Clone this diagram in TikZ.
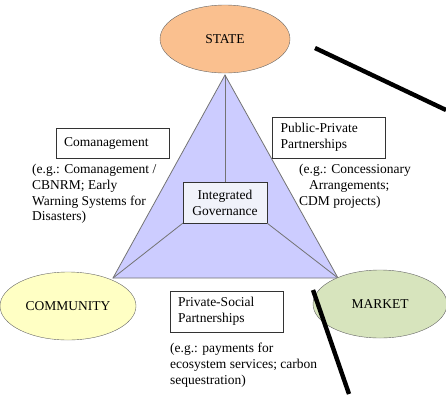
\documentclass[tikz,border=0pt]{standalone}
\usepackage{fontspec}
\setmainfont{Liberation Serif}
\usepackage{xcolor}
\usetikzlibrary{shapes.geometric}
\definecolor{stateorange}{RGB}{250,192,143}
\definecolor{trililac}{RGB}{204,204,255}
\definecolor{commyellow}{RGB}{255,255,196}
\definecolor{marketgreen}{RGB}{215,228,189}
\definecolor{boxwhite}{RGB}{240,242,250}

\begin{document}
\begin{tikzpicture}[x=1pt, y=-1pt,
      every node/.style={font=\fontsize{13.5}{15.8}\selectfont},
      actor/.style={ellipse, draw=black!60, inner sep=0pt},
      label box/.style={draw=black!80, fill=white, inner xsep=8pt, inner ysep=3pt,
        text width=97pt, align=left},
      example/.style={inner sep=0pt, align=left, anchor=north west},
      divider/.style={draw=black!55, line width=0.8pt},
      bar/.style={line width=4.4pt}
    ]
    \useasboundingbox (0,0) rectangle (446,394);
    % triangle between the three sectors
    \coordinate (top) at (225,75);
    \coordinate (left) at (113,278);
    \coordinate (right) at (338,278);
    \filldraw[fill=trililac, divider] (top) -- (right) -- (left) -- cycle;
    \node[draw=black!80, fill=boxwhite, minimum width=84pt, minimum height=41pt,
      align=center, inner sep=0pt] (gov) at (225,202.5) {Integrated\\Governance};
    \draw[divider] (top) -- (gov.north);
    \draw[divider] (gov.south west) -- (left);
    \draw[divider] (gov.south east) -- (right);
    % sectors
    \node[actor, fill=stateorange, minimum width=130pt, minimum height=68pt] (state) at (225,39) {STATE};
    \node[actor, fill=commyellow, minimum width=136pt, minimum height=68pt] (community) at (68,306) {COMMUNITY};
    \node[actor, fill=marketgreen, minimum width=134pt, minimum height=68pt] (market) at (380,304) {MARKET};
    % partnership boxes
    \node[label box, minimum height=30pt] (coman) at (112.5,143) {Comanagement};
    \node[label box, minimum height=41pt] (ppp) at (329,137.5) {Public-Private\\Partnerships};
    \node[label box, minimum height=41pt] (psp) at (226.5,311.5) {Private-Social\\Partnerships};
    % examples
    \node[example] (comanex) at (32,164) {(e.g.: Comanagement /\\CBNRM; Early\\Warning Systems for\\Disasters)};
    \node[example] (pppex) at (299,164) {(e.g.: Concessionary\\\hspace{10pt}Arrangements;\\CDM projects)};
    \node[example] (pspex) at (170,343) {(e.g.: payments for\\ecosystem services; carbon\\sequestration)};
    % heavy strokes
    \coordinate (b1) at (315,48);
    \coordinate (b2) at (446,110);
    \coordinate (b3) at (313,290);
    \coordinate (b4) at (349,394);
    \draw[bar] (b1) -- (b2);
    \draw[bar] (b3) -- (b4);
    \end{tikzpicture}
\end{document}
